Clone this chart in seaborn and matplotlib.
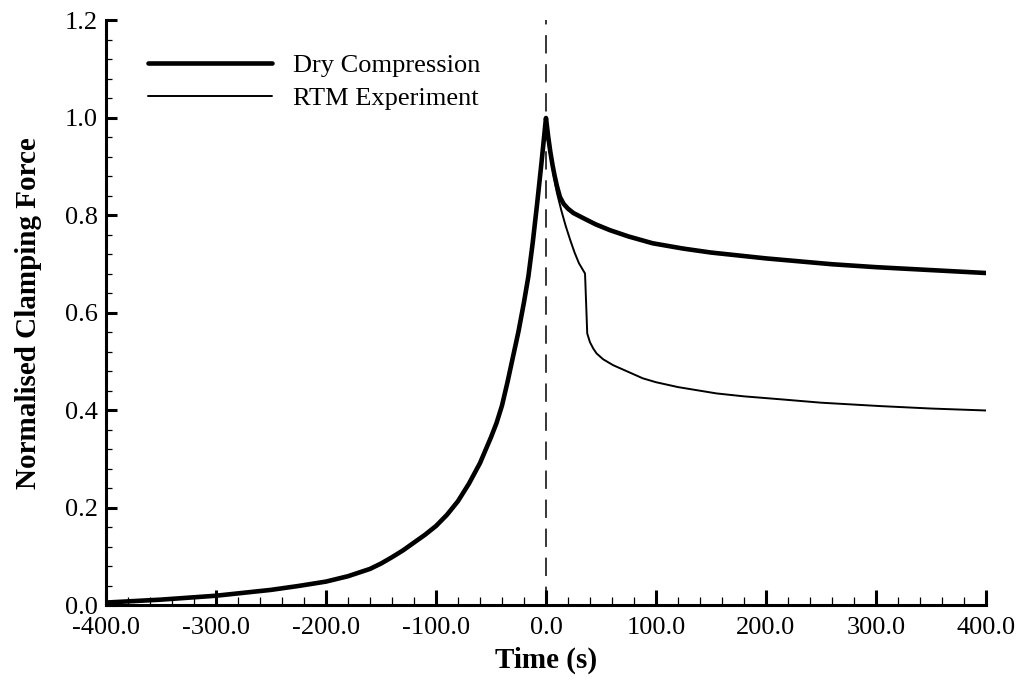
import matplotlib
matplotlib.use("Agg")
import matplotlib.pyplot as plt
from matplotlib.ticker import MultipleLocator, FormatStrFormatter
import numpy as np
import pandas as pd
import seaborn as sns

# Dry compression: clamping force (normalised) against time (s)
dry_time = [-400, -375, -350, -325, -300, -275, -250, -225, -200, -180, -160,
            -150, -140, -130, -120, -110, -100, -90, -80, -70, -60, -50, -45,
            -40, -35, -30, -25, -20, -16, -12, -8, -4, 0,
            2, 4, 6, 8, 10, 12.7, 16, 20, 25, 33.6, 45, 58, 75, 97, 125, 150,
            175, 200, 230, 260, 300, 350, 400]
dry_force = [0.006, 0.009, 0.012, 0.016, 0.020, 0.026, 0.032, 0.040, 0.049,
             0.060, 0.075, 0.086, 0.099, 0.113, 0.129, 0.145, 0.163, 0.186,
             0.214, 0.250, 0.292, 0.345, 0.374, 0.410, 0.458, 0.510, 0.562,
             0.622, 0.675, 0.745, 0.825, 0.910, 1.000,
             0.962, 0.930, 0.903, 0.880, 0.860, 0.838, 0.824, 0.814, 0.805,
             0.795, 0.782, 0.770, 0.757, 0.743, 0.732, 0.724, 0.718, 0.712,
             0.706, 0.700, 0.694, 0.688, 0.682]

# RTM experiment: same loading ramp, then a sudden relaxation
rtm_time = [-400, -375, -350, -325, -300, -275, -250, -225, -200, -180, -160,
            -150, -140, -130, -120, -110, -100, -90, -80, -70, -60, -50, -45,
            -40, -35, -30, -25, -20, -16, -12, -8, -4, 0,
            2, 4, 6, 8, 10, 14, 18, 22, 26, 30, 35.5, 36.5, 37.5, 40, 43, 46,
            52, 61, 75, 88, 100, 120, 155, 180, 213, 250, 304, 350, 400]
rtm_force = [0.006, 0.009, 0.012, 0.016, 0.020, 0.026, 0.032, 0.040, 0.049,
             0.060, 0.075, 0.086, 0.099, 0.113, 0.129, 0.145, 0.163, 0.186,
             0.214, 0.250, 0.292, 0.345, 0.374, 0.410, 0.458, 0.510, 0.562,
             0.622, 0.675, 0.745, 0.825, 0.905, 0.985,
             0.950, 0.922, 0.895, 0.870, 0.846, 0.810, 0.778, 0.750, 0.724,
             0.702, 0.681, 0.620, 0.558, 0.540, 0.527, 0.517, 0.505, 0.493,
             0.479, 0.466, 0.458, 0.448, 0.435, 0.429, 0.423, 0.416, 0.409,
             0.404, 0.400]

series_names = ["Dry Compression", "RTM Experiment"]
x_ticks = [-400, -300, -200, -100, 0, 100, 200, 300, 400]
y_ticks = [0.0, 0.2, 0.4, 0.6, 0.8, 1.0, 1.2]

sns.set_theme(style="ticks")
plt.rcParams["font.family"] = ["Liberation Serif", "DejaVu Serif"]
plt.rcParams.update({
    "text.color": "black",
    "axes.labelcolor": "black",
    "xtick.color": "black",
    "ytick.color": "black",
    "axes.edgecolor": "black",
})

fig = plt.figure(figsize=(10.23, 6.81), dpi=100)
ax = fig.add_axes([0.1036, 0.1109, 0.8602, 0.8590])

sns.lineplot(x=dry_time, y=dry_force, ax=ax, color="black", linewidth=3.3,
             label=series_names[0], sort=False, estimator=None)
sns.lineplot(x=rtm_time, y=rtm_force, ax=ax, color="black", linewidth=1.4,
             label=series_names[1], sort=False, estimator=None)

ax.axvline(0, color="black", linewidth=1.1, linestyle=(0, (12, 7)), zorder=1)

ax.set_xlim(x_ticks[0], x_ticks[-1])
ax.set_ylim(y_ticks[0], y_ticks[-1])
ax.set_xticks(x_ticks)
ax.set_yticks(y_ticks)
ax.xaxis.set_minor_locator(MultipleLocator(20))
ax.yaxis.set_minor_locator(MultipleLocator(0.04))
ax.xaxis.set_major_formatter(FormatStrFormatter("%.1f"))
ax.yaxis.set_major_formatter(FormatStrFormatter("%.1f"))

for side in ("top", "right"):
    ax.spines[side].set_visible(False)
for side in ("left", "bottom"):
    ax.spines[side].set_linewidth(2.2)
    ax.spines[side].set_color("black")

ax.tick_params(axis="x", which="major", direction="in", length=11, width=2.2,
               labelsize=19, pad=8, colors="black")
ax.tick_params(axis="x", which="minor", direction="in", length=6, width=0.9,
               colors="black")
ax.tick_params(axis="y", which="major", direction="in", length=8, width=2.2,
               labelsize=19, pad=6, colors="black")
ax.tick_params(axis="y", which="minor", direction="in", length=4, width=0.9,
               colors="black")

ax.set_xlabel("Time (s)", fontsize=21, fontweight="bold", labelpad=6,
              color="black")
ax.set_ylabel("Normalised Clamping Force", fontsize=21, fontweight="bold",
              labelpad=16, color="black")

leg = ax.legend(loc="center left", bbox_to_anchor=(0.0477, 0.895),
                frameon=False, fontsize=19, handlelength=4.7,
                handletextpad=0.8, labelspacing=0.34, borderpad=0,
                borderaxespad=0)
for line in leg.get_lines():
    line.set_color("black")
for text in leg.get_texts():
    text.set_color("black")

ax.set_facecolor("white")
fig.patch.set_facecolor("white")
fig.savefig("out.png", dpi=100)
